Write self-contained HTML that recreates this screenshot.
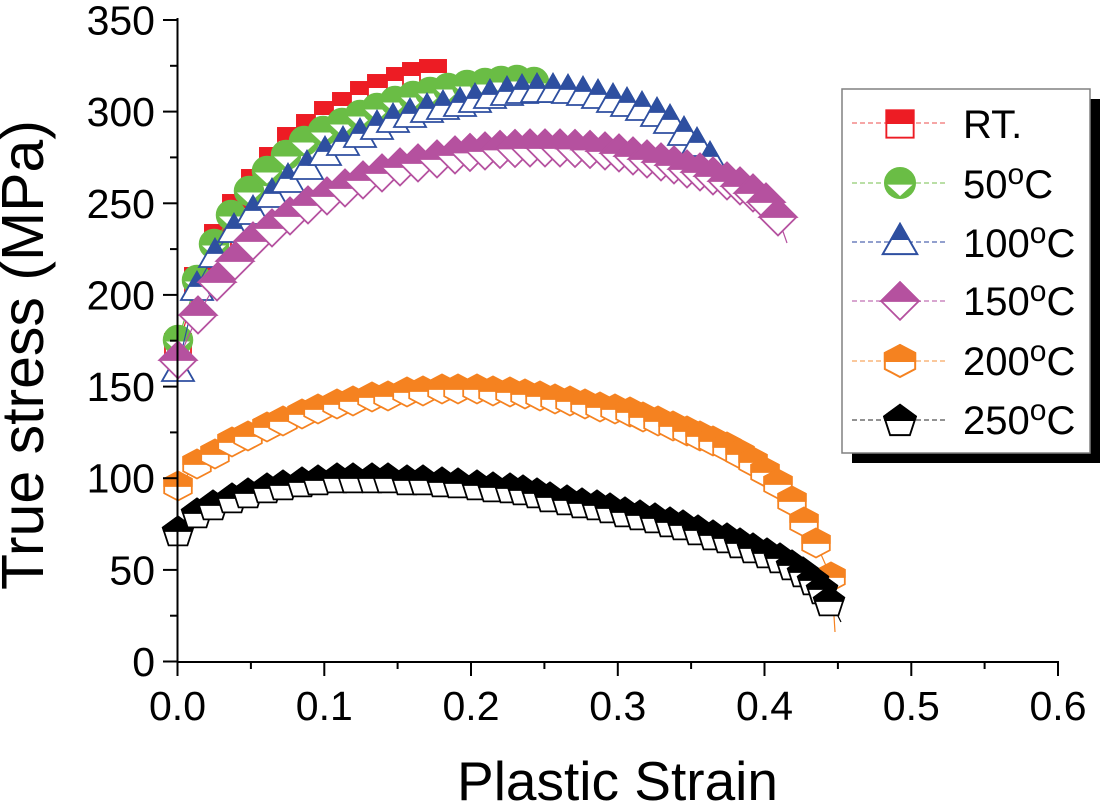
<!DOCTYPE html>
<html>
<head>
<meta charset="utf-8">
<style>
html,body{margin:0;padding:0;background:#fff;}
svg{display:block;font-family:"Liberation Sans",Arial,sans-serif;}
</style>
</head>
<body>
<svg width="1100" height="806" viewBox="0 0 1100 806" xmlns="http://www.w3.org/2000/svg">
<defs>
<g id="mR"><rect x="-13" y="-13" width="26" height="26" fill="#fff" stroke="#ed1c24" stroke-width="1.8"/><rect x="-13.9" y="-13.9" width="27.8" height="13.9" fill="#ed1c24"/></g>
<g id="mG"><circle r="14.5" fill="#6abd45" stroke="#6abd45" stroke-width="1.5"/><polygon points="-12,1.5 12,1.5 0,12.5" fill="#fff"/></g>
<g id="mB"><polygon points="0,-14 16,14 -16,14" fill="#fff" stroke="#2e4fa0" stroke-width="1.8"/><polygon points="0,-14 8,0 -8,0" fill="#2e4fa0" stroke="#2e4fa0" stroke-width="1.8"/></g>
<g id="mM"><polygon points="0,-18.5 18.5,0 0,18.5 -18.5,0" fill="#fff" stroke="#b5519f" stroke-width="1.8"/><polygon points="0,-18.5 18.5,0 -18.5,0" fill="#b5519f" stroke="#b5519f" stroke-width="1.8"/></g>
<g id="mO"><polygon points="0,-14.5 13.8,-7.25 13.8,7.25 0,14.5 -13.8,7.25 -13.8,-7.25" fill="#fff" stroke="#f58220" stroke-width="1.8"/><polygon points="-13.8,0 -13.8,-7.25 0,-14.5 13.8,-7.25 13.8,0" fill="#f58220" stroke="#f58220" stroke-width="1.8"/></g>
<g id="mK"><polygon points="0,-14.5 15.2,-3.4 9.4,14.4 -9.4,14.4 -15.2,-3.4" fill="#fff" stroke="#000" stroke-width="1.8"/><polygon points="0,-14.5 15.2,-3.4 14.1,0 -14.1,0 -15.2,-3.4" fill="#000" stroke="#000" stroke-width="1.8"/></g>
</defs>

<!-- RED -->
<polyline fill="none" stroke="#ed1c24" stroke-width="1.2" points="178,347 198,281 218,238 236,208 255,183 273,161 291,141 310,128 328,115 346,106 364,95 381,88 400,81 416,76 433,73"/>
<g>
<use href="#mR" x="178" y="347"/><use href="#mR" x="198" y="281"/><use href="#mR" x="218" y="238"/><use href="#mR" x="236" y="208"/><use href="#mR" x="255" y="183"/><use href="#mR" x="273" y="161"/><use href="#mR" x="291" y="141"/><use href="#mR" x="310" y="128"/><use href="#mR" x="328" y="115"/><use href="#mR" x="346" y="106"/><use href="#mR" x="364" y="95"/><use href="#mR" x="381" y="88"/><use href="#mR" x="400" y="81"/><use href="#mR" x="416" y="76"/><use href="#mR" x="433" y="73"/>
</g>

<!-- GREEN -->
<polyline fill="none" stroke="#6abd45" stroke-width="1.2" points="178,340 197,280 214,244 231,215 249,191 267,171 286,155 304,141 323,131 342,123 360,115 377,108 395,101 413,96 430,92 448,88 467,85 485,83 501,81 517,80 534,82"/>
<g>
<use href="#mG" x="178" y="340"/><use href="#mG" x="197" y="280"/><use href="#mG" x="214" y="244"/><use href="#mG" x="231" y="215"/><use href="#mG" x="249" y="191"/><use href="#mG" x="267" y="171"/><use href="#mG" x="286" y="155"/><use href="#mG" x="304" y="141"/><use href="#mG" x="323" y="131"/><use href="#mG" x="342" y="123"/><use href="#mG" x="360" y="115"/><use href="#mG" x="377" y="108"/><use href="#mG" x="395" y="101"/><use href="#mG" x="413" y="96"/><use href="#mG" x="430" y="92"/><use href="#mG" x="448" y="88"/><use href="#mG" x="467" y="85"/><use href="#mG" x="485" y="83"/><use href="#mG" x="501" y="81"/><use href="#mG" x="517" y="80"/><use href="#mG" x="534" y="82"/>
</g>

<!-- BLUE -->
<polyline fill="none" stroke="#2e4fa0" stroke-width="1.2" points="178,367 197,286 215,253 234,228 253,210 272,193 288,178 307,165 325,151 343,141 360,133 377,125 393,118 410,113 427,108 443,105 460,102 475,98 490,94 507,91 522,89 537,88 553,88 568,89 583,91 598,94 613,98 627,102 642,106 657,112 670,119 684,131 697,142 710,156"/>
<g>
<use href="#mB" x="178" y="367"/><use href="#mB" x="197" y="286"/><use href="#mB" x="215" y="253"/><use href="#mB" x="234" y="228"/><use href="#mB" x="253" y="210"/><use href="#mB" x="272" y="193"/><use href="#mB" x="288" y="178"/><use href="#mB" x="307" y="165"/><use href="#mB" x="325" y="151"/><use href="#mB" x="343" y="141"/><use href="#mB" x="360" y="133"/><use href="#mB" x="377" y="125"/><use href="#mB" x="393" y="118"/><use href="#mB" x="410" y="113"/><use href="#mB" x="427" y="108"/><use href="#mB" x="443" y="105"/><use href="#mB" x="460" y="102"/><use href="#mB" x="475" y="98"/><use href="#mB" x="490" y="94"/><use href="#mB" x="507" y="91"/><use href="#mB" x="522" y="89"/><use href="#mB" x="537" y="88"/><use href="#mB" x="553" y="88"/><use href="#mB" x="568" y="89"/><use href="#mB" x="583" y="91"/><use href="#mB" x="598" y="94"/><use href="#mB" x="613" y="98"/><use href="#mB" x="627" y="102"/><use href="#mB" x="642" y="106"/><use href="#mB" x="657" y="112"/><use href="#mB" x="670" y="119"/><use href="#mB" x="684" y="131"/><use href="#mB" x="697" y="142"/><use href="#mB" x="710" y="156"/>
</g>

<!-- MAGENTA -->
<polyline fill="none" stroke="#b5519f" stroke-width="1.2" points="178,360 198,315 217,282 235,261 253,241 272,228 290,216 308,205 327,196 345,188 363,180 382,173 400,167 418,163 437,159 455,155 470,152.5 485,151 500,149.5 515,148.5 530,148 545,148 560,148 575,148.5 590,149.5 605,151 619,153 633,156 647,159 661,162 674,165 687,169 700,172 713,176 727,181 740,186 753,193 766,202 778,217 787,243"/>
<g>
<use href="#mM" x="178" y="360"/><use href="#mM" x="198" y="315"/><use href="#mM" x="217" y="282"/><use href="#mM" x="235" y="261"/><use href="#mM" x="253" y="241"/><use href="#mM" x="272" y="228"/><use href="#mM" x="290" y="216"/><use href="#mM" x="308" y="205"/><use href="#mM" x="327" y="196"/><use href="#mM" x="345" y="188"/><use href="#mM" x="363" y="180"/><use href="#mM" x="382" y="173"/><use href="#mM" x="400" y="167"/><use href="#mM" x="418" y="163"/><use href="#mM" x="437" y="159"/><use href="#mM" x="455" y="155"/><use href="#mM" x="470" y="152.5"/><use href="#mM" x="485" y="151"/><use href="#mM" x="500" y="149.5"/><use href="#mM" x="515" y="148.5"/><use href="#mM" x="530" y="148"/><use href="#mM" x="545" y="148"/><use href="#mM" x="560" y="148"/><use href="#mM" x="575" y="148.5"/><use href="#mM" x="590" y="149.5"/><use href="#mM" x="605" y="151"/><use href="#mM" x="619" y="153"/><use href="#mM" x="633" y="156"/><use href="#mM" x="647" y="159"/><use href="#mM" x="661" y="162"/><use href="#mM" x="674" y="165"/><use href="#mM" x="687" y="169"/><use href="#mM" x="700" y="172"/><use href="#mM" x="713" y="176"/><use href="#mM" x="727" y="181"/><use href="#mM" x="740" y="186"/><use href="#mM" x="753" y="193"/><use href="#mM" x="766" y="202"/><use href="#mM" x="778" y="217"/>
</g>

<!-- ORANGE -->
<polyline fill="none" stroke="#f58220" stroke-width="1.2" points="178,486 197,464 215,454 232,442 248,436 267,427 283,421 302,414 318,409 337,404 353,401 372,397 388,396 407,392 423,391 442,389 458,389 477,389 493,391 510,392 525,394 540,396 555,399 570,401 585,404 600,407 615,409 630,412 643,417 658,421 673,426 687,431 700,436 713,441 727,447 740,454 753,462 765,472 778,484 792,501 804,522 816,543 831,577 833,600 835,632"/>
<g>
<use href="#mO" x="178" y="486"/><use href="#mO" x="197" y="464"/><use href="#mO" x="215" y="454"/><use href="#mO" x="232" y="442"/><use href="#mO" x="248" y="436"/><use href="#mO" x="267" y="427"/><use href="#mO" x="283" y="421"/><use href="#mO" x="302" y="414"/><use href="#mO" x="318" y="409"/><use href="#mO" x="337" y="404"/><use href="#mO" x="353" y="401"/><use href="#mO" x="372" y="397"/><use href="#mO" x="388" y="396"/><use href="#mO" x="407" y="392"/><use href="#mO" x="423" y="391"/><use href="#mO" x="442" y="389"/><use href="#mO" x="458" y="389"/><use href="#mO" x="477" y="389"/><use href="#mO" x="493" y="391"/><use href="#mO" x="510" y="392"/><use href="#mO" x="525" y="394"/><use href="#mO" x="540" y="396"/><use href="#mO" x="555" y="399"/><use href="#mO" x="570" y="401"/><use href="#mO" x="585" y="404"/><use href="#mO" x="600" y="407"/><use href="#mO" x="615" y="409"/><use href="#mO" x="630" y="412"/><use href="#mO" x="643" y="417"/><use href="#mO" x="658" y="421"/><use href="#mO" x="673" y="426"/><use href="#mO" x="687" y="431"/><use href="#mO" x="700" y="436"/><use href="#mO" x="713" y="441"/><use href="#mO" x="727" y="447"/><use href="#mO" x="740" y="454"/><use href="#mO" x="753" y="462"/><use href="#mO" x="765" y="472"/><use href="#mO" x="778" y="484"/><use href="#mO" x="792" y="501"/><use href="#mO" x="804" y="522"/><use href="#mO" x="816" y="543"/><use href="#mO" x="831" y="577"/>
</g>

<!-- BLACK -->
<polyline fill="none" stroke="#000" stroke-width="1.2" points="178,531 197,513 213,505 232,498 248,493 267,488 283,485 302,482 318,480 337,478 353,478 372,478 388,478 407,480 423,480 442,482 458,483 477,485 493,487 510,488 523,490 537,493 550,497 567,500 582,503 597,505 610,508 625,512 640,515 655,518 670,522 683,525 698,530 713,535 727,538 740,543 753,548 767,553 780,558 792,565 803,572 813,580 822,589 829,601 835,610 841,622"/>
<g>
<use href="#mK" x="178" y="531"/><use href="#mK" x="197" y="513"/><use href="#mK" x="213" y="505"/><use href="#mK" x="232" y="498"/><use href="#mK" x="248" y="493"/><use href="#mK" x="267" y="488"/><use href="#mK" x="283" y="485"/><use href="#mK" x="302" y="482"/><use href="#mK" x="318" y="480"/><use href="#mK" x="337" y="478"/><use href="#mK" x="353" y="478"/><use href="#mK" x="372" y="478"/><use href="#mK" x="388" y="478"/><use href="#mK" x="407" y="480"/><use href="#mK" x="423" y="480"/><use href="#mK" x="442" y="482"/><use href="#mK" x="458" y="483"/><use href="#mK" x="477" y="485"/><use href="#mK" x="493" y="487"/><use href="#mK" x="510" y="488"/><use href="#mK" x="523" y="490"/><use href="#mK" x="537" y="493"/><use href="#mK" x="550" y="497"/><use href="#mK" x="567" y="500"/><use href="#mK" x="582" y="503"/><use href="#mK" x="597" y="505"/><use href="#mK" x="610" y="508"/><use href="#mK" x="625" y="512"/><use href="#mK" x="640" y="515"/><use href="#mK" x="655" y="518"/><use href="#mK" x="670" y="522"/><use href="#mK" x="683" y="525"/><use href="#mK" x="698" y="530"/><use href="#mK" x="713" y="535"/><use href="#mK" x="727" y="538"/><use href="#mK" x="740" y="543"/><use href="#mK" x="753" y="548"/><use href="#mK" x="767" y="553"/><use href="#mK" x="780" y="558"/><use href="#mK" x="792" y="565"/><use href="#mK" x="803" y="572"/><use href="#mK" x="813" y="580"/><use href="#mK" x="822" y="589"/><use href="#mK" x="829" y="601"/>
</g>

<!-- AXES -->
<g stroke="#000" stroke-width="2" fill="none">
<line x1="177.5" y1="18" x2="177.5" y2="663"/>
<line x1="176.5" y1="662" x2="1059" y2="662"/>
<!-- y major ticks -->
<line x1="163" y1="661.5" x2="177" y2="661.5"/>
<line x1="163" y1="569.9" x2="177" y2="569.9"/>
<line x1="163" y1="478.2" x2="177" y2="478.2"/>
<line x1="163" y1="386.6" x2="177" y2="386.6"/>
<line x1="163" y1="294.9" x2="177" y2="294.9"/>
<line x1="163" y1="203.3" x2="177" y2="203.3"/>
<line x1="163" y1="111.6" x2="177" y2="111.6"/>
<line x1="163" y1="20" x2="177" y2="20"/>
<!-- y minor ticks -->
<line x1="170" y1="615.7" x2="177" y2="615.7"/>
<line x1="170" y1="524" x2="177" y2="524"/>
<line x1="170" y1="432.4" x2="177" y2="432.4"/>
<line x1="170" y1="340.7" x2="177" y2="340.7"/>
<line x1="170" y1="249.1" x2="177" y2="249.1"/>
<line x1="170" y1="157.4" x2="177" y2="157.4"/>
<line x1="170" y1="65.8" x2="177" y2="65.8"/>
<!-- x major ticks -->
<line x1="177.5" y1="662" x2="177.5" y2="676"/>
<line x1="324.3" y1="662" x2="324.3" y2="676"/>
<line x1="471" y1="662" x2="471" y2="676"/>
<line x1="617.8" y1="662" x2="617.8" y2="676"/>
<line x1="764.5" y1="662" x2="764.5" y2="676"/>
<line x1="911.3" y1="662" x2="911.3" y2="676"/>
<line x1="1058" y1="662" x2="1058" y2="676"/>
<!-- x minor ticks -->
<line x1="250.9" y1="662" x2="250.9" y2="669"/>
<line x1="397.6" y1="662" x2="397.6" y2="669"/>
<line x1="544.4" y1="662" x2="544.4" y2="669"/>
<line x1="691.1" y1="662" x2="691.1" y2="669"/>
<line x1="837.9" y1="662" x2="837.9" y2="669"/>
<line x1="984.6" y1="662" x2="984.6" y2="669"/>
</g>

<!-- Y tick labels -->
<g font-size="41" text-anchor="end" fill="#000">
<text x="155" y="676">0</text>
<text x="155" y="584.4">50</text>
<text x="155" y="492.7">100</text>
<text x="155" y="401.1">150</text>
<text x="155" y="309.4">200</text>
<text x="155" y="217.8">250</text>
<text x="155" y="126.1">300</text>
<text x="155" y="34.5">350</text>
</g>
<!-- X tick labels -->
<g font-size="41" text-anchor="middle" fill="#000">
<text x="177.5" y="720">0.0</text>
<text x="324.3" y="720">0.1</text>
<text x="471" y="720">0.2</text>
<text x="617.8" y="720">0.3</text>
<text x="764.5" y="720">0.4</text>
<text x="911.3" y="720">0.5</text>
<text x="1058" y="720">0.6</text>
</g>

<!-- Axis titles -->
<text x="617.5" y="800" font-size="55" text-anchor="middle" fill="#000">Plastic Strain</text>
<text transform="translate(43,355) rotate(-90)" x="0" y="0" font-size="59" text-anchor="middle" fill="#000">True stress (MPa)</text>

<!-- LEGEND -->
<rect x="852" y="99" width="248" height="364" fill="#000"/>
<rect x="842" y="89" width="248" height="364" fill="#fff" stroke="#808080" stroke-width="1.5"/>
<g stroke-width="1.3" stroke-dasharray="5,3" fill="none">
<line x1="852" y1="123" x2="946" y2="123" stroke="#f07070"/>
<line x1="852" y1="183" x2="946" y2="183" stroke="#90cc70"/>
<line x1="852" y1="242" x2="946" y2="242" stroke="#5068b0"/>
<line x1="852" y1="301" x2="946" y2="301" stroke="#c070b5"/>
<line x1="852" y1="361" x2="946" y2="361" stroke="#f8a860"/>
<line x1="852" y1="420" x2="946" y2="420" stroke="#505050"/>
</g>
<use href="#mR" transform="translate(900,124) scale(1.05)"/>
<use href="#mG" transform="translate(900,183) scale(1.05)"/>
<use href="#mB" transform="translate(900,239) scale(1.08)"/>
<use href="#mM" transform="translate(900,301) scale(1.02)"/>
<use href="#mO" transform="translate(900,361) scale(1.1)"/>
<use href="#mK" transform="translate(900,420) scale(1.05)"/>
<g font-size="40" fill="#000">
<text x="963" y="138">RT.</text>
<text x="963" y="198">50<tspan font-size="30" dy="-14">o</tspan><tspan dy="14">C</tspan></text>
<text x="963" y="257">100<tspan font-size="30" dy="-14">o</tspan><tspan dy="14">C</tspan></text>
<text x="963" y="315">150<tspan font-size="30" dy="-14">o</tspan><tspan dy="14">C</tspan></text>
<text x="963" y="375">200<tspan font-size="30" dy="-14">o</tspan><tspan dy="14">C</tspan></text>
<text x="963" y="434">250<tspan font-size="30" dy="-14">o</tspan><tspan dy="14">C</tspan></text>
</g>
</svg>
</body>
</html>
